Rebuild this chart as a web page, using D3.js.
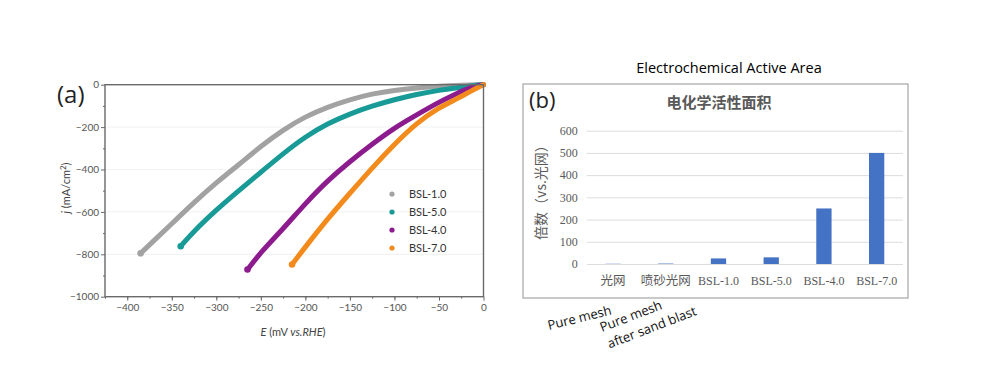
<!DOCTYPE html>
<html lang="en">
<head>
    <meta charset="UTF-8">
    <title>HER polarization and ECSA</title>
    <script src="https://cdn.jsdelivr.net/npm/d3@7"></script>
    <style>
        body { margin: 0; background: #fff; }
        svg { display: block; }
        .tick-a { font-family: Lato, "Open Sans", sans-serif; font-size: 10px; fill: #555; }
        .tick-b { font-family: "Liberation Serif", serif; font-size: 12px; fill: #595959; }
        .cjk { font-family: "Noto Sans CJK SC", sans-serif; fill: #595959; }
    </style>
</head>
<body>
<div id="container"></div>
<script>
    // ---- panel (a): polarization curves
    const seriesNames = ['BSL-1.0', 'BSL-5.0', 'BSL-4.0', 'BSL-7.0'];
    const seriesColors = ['#a2a2a2', '#189a96', '#8c1b8e', '#f28b1c'];
    const bsl10 = [[0, 0], [-25, -2], [-50, -6], [-75, -15], [-100, -26], [-125, -43], [-150, -70],
        [-175, -105], [-200, -150], [-225, -213], [-250, -290], [-275, -378], [-300, -462],
        [-325, -555], [-350, -656], [-370, -735], [-385, -795]];
    const bsl50 = [[0, 0], [-10, -3], [-25, -12], [-50, -26], [-75, -45], [-100, -70], [-125, -100],
        [-150, -137], [-175, -183], [-200, -245], [-225, -325], [-250, -413], [-275, -500],
        [-300, -590], [-325, -690], [-340, -762]];
    const bsl40 = [[0, 0], [-10, -8], [-20, -22], [-35, -52], [-50, -82], [-75, -142], [-100, -203],
        [-125, -280], [-150, -362], [-175, -452], [-200, -560], [-225, -680], [-250, -790], [-265, -872]];
    const bsl70 = [[0, 0], [-15, -32], [-30, -67], [-50, -108], [-75, -180], [-100, -280], [-125, -392],
        [-150, -512], [-175, -632], [-200, -765], [-215, -848]];
    const curves = [bsl10, bsl50, bsl40, bsl70];
    const xTicksA = [-400, -350, -300, -250, -200, -150, -100, -50, 0];
    const yTicksA = [-1000, -800, -600, -400, -200, 0];

    // ---- panel (b): ECSA bars
    const categories = ['光网', '喷砂光网', 'BSL-1.0', 'BSL-5.0', 'BSL-4.0', 'BSL-7.0'];
    const ecsaValues = [1, 2, 25, 30, 250, 500];
    const yTicksB = [0, 100, 200, 300, 400, 500, 600];

    const w = 987, h = 377;
    const svg = d3.select('#container').append('svg')
        .attr('width', w).attr('height', h)
        .attr('viewBox', `0 0 ${w} ${h}`);

    drawPanelA();
    drawPanelB();

    function drawPanelA() {
        const x = d3.scaleLinear().domain([-425, 0]).range([105, 483.5]);
        const y = d3.scaleLinear().domain([-1000, 0]).range([296.7, 84.7]);
        const g = svg.append('g');

        // faint grid
        g.selectAll('line.grid').data(yTicksA.filter(d => d > -1000 && d < 0)).enter()
            .append('line').attr('class', 'grid')
            .attr('x1', x(-425)).attr('x2', x(0))
            .attr('y1', d => y(d)).attr('y2', d => y(d))
            .attr('stroke', '#f1f1f1');

        const line = d3.line().x(d => x(d[0])).y(d => y(d[1])).curve(d3.curveBasis);
        curves.forEach((c, i) => {
            g.append('path').datum(c)
                .attr('d', line)
                .attr('fill', 'none')
                .attr('stroke', seriesColors[i])
                .attr('stroke-width', 5)
                .attr('stroke-linecap', 'round');
            const last = c[c.length - 1];
            g.append('circle')
                .attr('cx', x(last[0])).attr('cy', y(last[1])).attr('r', 3.3)
                .attr('fill', seriesColors[i]);
        });

        // frame
        g.append('rect')
            .attr('x', x(-425)).attr('y', y(0))
            .attr('width', x(0) - x(-425)).attr('height', y(-1000) - y(0))
            .attr('fill', 'none').attr('stroke', '#6a6a6a').attr('stroke-width', 1.4);

        const xAxis = d3.axisBottom(x).tickValues(xTicksA).tickSize(4).tickPadding(3)
            .tickFormat(d3.format('d'));
        const xAxisMinor = d3.axisBottom(x).tickValues(d3.range(-425, 0, 25)).tickSize(2).tickFormat('');
        const yAxis = d3.axisLeft(y).tickValues(yTicksA).tickSize(4).tickPadding(2)
            .tickFormat(d3.format('d'));
        const yAxisMinor = d3.axisLeft(y).tickValues([-900, -700, -500, -300, -100]).tickSize(2).tickFormat('');

        [[xAxis, y(-1000), 'x'], [xAxisMinor, y(-1000), 'x'], [yAxis, x(-425), 'y'], [yAxisMinor, x(-425), 'y']]
            .forEach(([ax, pos, dir]) => {
                const a = g.append('g')
                    .attr('transform', dir === 'x' ? `translate(0,${pos})` : `translate(${pos},0)`)
                    .call(ax);
                a.select('.domain').remove();
                a.selectAll('line').attr('stroke', '#6a6a6a');
                a.selectAll('text').attr('class', 'tick-a').attr('fill', null);
            });

        // axis titles
        const xt = g.append('text')
            .attr('x', 293).attr('y', 336)
            .attr('text-anchor', 'middle')
            .style('font-family', 'Lato, sans-serif').style('font-size', '11px').attr('fill', '#444');
        xt.append('tspan').style('font-style', 'italic').text('E');
        xt.append('tspan').text(' (mV ');
        xt.append('tspan').style('font-style', 'italic').text('vs.RHE');
        xt.append('tspan').text(')');

        const yt = g.append('text')
            .attr('transform', 'translate(70,188) rotate(-90)')
            .attr('text-anchor', 'middle')
            .style('font-family', 'Lato, sans-serif').style('font-size', '11px').attr('fill', '#444');
        yt.append('tspan').style('font-style', 'italic').text('j');
        yt.append('tspan').text(' (mA/cm');
        yt.append('tspan').attr('dy', -4).style('font-size', '8px').text('2');
        yt.append('tspan').attr('dy', 4).text(')');

        g.append('text').text('(a)')
            .attr('x', 57).attr('y', 103)
            .style('font-family', '"Open Sans", sans-serif').style('font-size', '24px').attr('fill', '#222');

        // legend
        const leg = g.append('g');
        seriesNames.forEach((n, i) => {
            leg.append('circle').attr('cx', 392).attr('cy', 194 + i * 18).attr('r', 2.6)
                .attr('fill', seriesColors[i]);
            leg.append('text').attr('x', 409).attr('y', 194 + i * 18).attr('dy', '0.35em')
                .text(n)
                .style('font-family', 'Lato, sans-serif').style('font-size', '11px').attr('fill', '#333');
        });
    }

    function drawPanelB() {
        const g = svg.append('g');
        g.append('text').text('Electrochemical Active Area')
            .attr('x', 729).attr('y', 73).attr('text-anchor', 'middle')
            .style('font-family', '"Open Sans", sans-serif').style('font-size', '14.5px').attr('fill', '#000');

        g.append('rect')
            .attr('x', 523).attr('y', 84).attr('width', 385).attr('height', 214)
            .attr('fill', '#fff').attr('stroke', '#a6a6a6').attr('stroke-width', 1.2);

        g.append('text').text('(b)')
            .attr('x', 529).attr('y', 108)
            .style('font-family', '"Open Sans", sans-serif').style('font-size', '22px').attr('fill', '#222');

        g.append('text').text('电化学活性面积').attr('class', 'cjk')
            .attr('x', 719).attr('y', 108).attr('text-anchor', 'middle')
            .style('font-size', '15px').style('font-weight', '600');

        const x = d3.scaleBand().domain(categories).range([586.7, 903])
            .paddingInner(0.71).paddingOuter(0.355);
        const y = d3.scaleLinear().domain([0, 600]).range([264, 130.7]);

        const yAxis = d3.axisLeft(y).tickValues(yTicksB)
            .tickSize(-(903 - 586.7)).tickPadding(9);
        const ya = g.append('g').attr('transform', 'translate(586.7,0)').call(yAxis);
        ya.select('.domain').remove();
        ya.selectAll('line').attr('stroke', '#dcdcdc');
        ya.selectAll('text').attr('class', 'tick-b').attr('fill', null);

        g.selectAll('rect.bar').data(ecsaValues).enter()
            .append('rect').attr('class', 'bar')
            .attr('x', (d, i) => x(categories[i]))
            .attr('width', x.bandwidth())
            .attr('y', d => y(d))
            .attr('height', d => y(0) - y(d))
            .attr('fill', '#4472c4');

        const xAxis = d3.axisBottom(x).tickSize(0).tickPadding(12);
        const xa = g.append('g').attr('transform', `translate(0,${y(0)})`).call(xAxis);
        xa.select('.domain').remove();
        xa.selectAll('text')
            .attr('class', d => /^BSL/.test(d) ? 'tick-b' : 'tick-b cjk')
            .attr('fill', null)
            .style('font-size', d => /^BSL/.test(d) ? '12px' : '12.5px');

        g.append('text').text('倍数（vs.光网）').attr('class', 'cjk')
            .attr('transform', 'translate(546,189) rotate(-90)')
            .attr('text-anchor', 'middle')
            .style('font-size', '14px');

        // English notes under the category labels
        const note = 'font-family:"Open Sans",sans-serif;font-size:13px;fill:#111';
        g.append('text').text('Pure mesh')
            .attr('transform', 'translate(549,330) rotate(-14)')
            .attr('style', note);
        const t2 = g.append('text')
            .attr('transform', 'translate(602,332) rotate(-21)')
            .attr('style', note);
        t2.append('tspan').attr('x', 0).text('Pure mesh');
        t2.append('tspan').attr('x', 1).attr('dy', 18).text('after sand blast');
    }
</script>
</body>
</html>
